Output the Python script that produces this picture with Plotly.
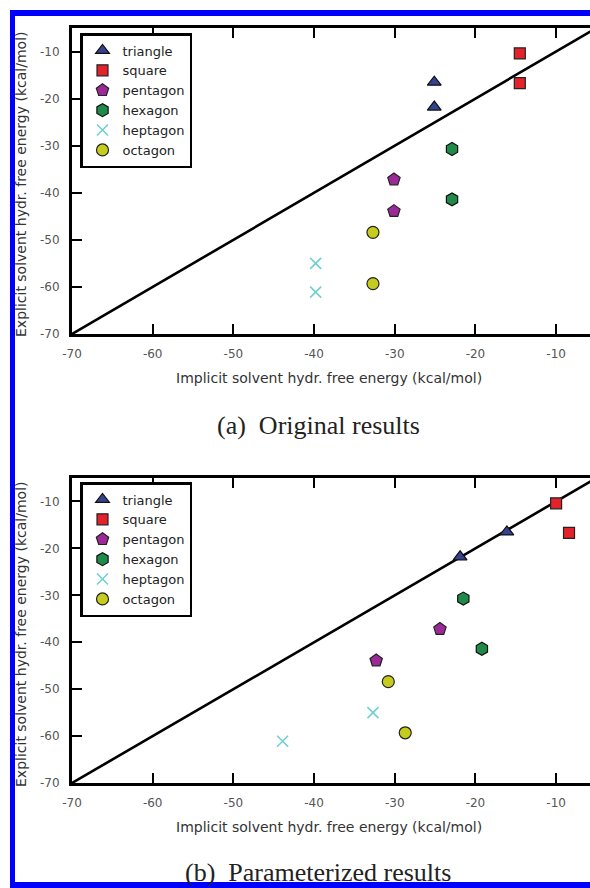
import plotly.graph_objects as go

# ---------------- data ----------------
series_names = ["triangle", "square", "pentagon", "hexagon", "heptagon", "octagon"]

explicit_triangle = [-16.5, -21.8]
explicit_square = [-10.4, -16.7]
explicit_pentagon = [-37.2, -43.9]
explicit_hexagon = [-30.7, -41.4]
explicit_heptagon = [-55.0, -61.1]
explicit_octagon = [-48.4, -59.3]

implicit_original_triangle = [-25.1, -25.1]
implicit_original_square = [-14.5, -14.5]
implicit_original_pentagon = [-30.1, -30.1]
implicit_original_hexagon = [-22.9, -22.9]
implicit_original_heptagon = [-39.8, -39.8]
implicit_original_octagon = [-32.7, -32.7]

implicit_param_triangle = [-16.1, -21.9]
implicit_param_square = [-10.0, -8.4]
implicit_param_pentagon = [-24.4, -32.3]
implicit_param_hexagon = [-21.5, -19.2]
implicit_param_heptagon = [-32.7, -43.9]
implicit_param_octagon = [-30.8, -28.7]

diagonal = [-70, -5]
tick_values = [-70, -60, -50, -40, -30, -20, -10]
tick_labels = ["-70", "-60", "-50", "-40", "-30", "-20", "-10"]

x_title = "Implicit solvent hydr. free energy (kcal/mol)"
y_title = "Explicit solvent hydr. free energy (kcal/mol)"
caption_a = "(a)\u00a0 Original results"
caption_b = "(b)\u00a0 Parameterized results"

# ---------------- styles ----------------
W, H = 590, 888
styles = {
    "triangle": dict(symbol="triangle-up", color="#34428f", size=12, line=dict(color="#111", width=1.2)),
    "square": dict(symbol="square", color="#e4222a", size=11, line=dict(color="#222", width=1.2)),
    "pentagon": dict(symbol="pentagon", color="#9b2a98", size=13, line=dict(color="#222", width=1.2)),
    "hexagon": dict(symbol="hexagon", color="#1f8a4a", size=13, line=dict(color="#111", width=1.2)),
    "heptagon": dict(symbol="x-thin", color="#72cfcf", size=11, line=dict(color="#72cfcf", width=1.6)),
    "octagon": dict(symbol="circle", color="#c6cc1e", size=12, line=dict(color="#222", width=1.2)),
}

explicit = [explicit_triangle, explicit_square, explicit_pentagon,
            explicit_hexagon, explicit_heptagon, explicit_octagon]
implicit_orig = [implicit_original_triangle, implicit_original_square, implicit_original_pentagon,
                 implicit_original_hexagon, implicit_original_heptagon, implicit_original_octagon]
implicit_par = [implicit_param_triangle, implicit_param_square, implicit_param_pentagon,
                implicit_param_hexagon, implicit_param_heptagon, implicit_param_octagon]

fig = go.Figure()

panels = [("x", "y", "legend", implicit_orig), ("x2", "y2", "legend2", implicit_par)]
for xa, ya, lg, impl in panels:
    fig.add_trace(go.Scatter(x=diagonal, y=diagonal, mode="lines", xaxis=xa, yaxis=ya,
                             line=dict(color="black", width=2.6), showlegend=False,
                             hoverinfo="skip"))
    for name, xs, ys in zip(series_names, impl, explicit):
        st = styles[name]
        fig.add_trace(go.Scatter(
            x=xs, y=ys, mode="markers", name=name, xaxis=xa, yaxis=ya, legend=lg,
            marker=dict(symbol=st["symbol"], color=st["color"], size=st["size"], line=st["line"]),
        ))

def px_x(p):
    return p / W

def px_y(p):
    return 1 - p / H

axis_common = dict(
    tickmode="array", tickvals=tick_values, ticktext=tick_labels,
    ticks="inside", ticklen=10, tickwidth=2, tickcolor="black",
    showline=True, linecolor="black", linewidth=3,
    showgrid=False, zeroline=False, automargin=False,
    tickfont=dict(family="DejaVu Sans", size=12, color="#555"),
)

x_dom = [px_x(72), 1.0]
ya_dom = [px_y(334), px_y(28)]
yb_dom = [px_y(783), px_y(478)]

fig.update_layout(
    template="none",
    width=W, height=H, autosize=False,
    margin=dict(l=0, r=0, t=0, b=0, pad=0, autoexpand=False),
    paper_bgcolor="white", plot_bgcolor="white",
    font=dict(family="DejaVu Sans", color="#333"),
    xaxis=dict(domain=x_dom, range=[-70, -5.8], anchor="y", mirror="ticks",
               ticklabelstandoff=7, **axis_common),
    yaxis=dict(domain=ya_dom, range=[-70, -5], anchor="x", mirror=False,
               ticklabelstandoff=7, **axis_common),
    xaxis2=dict(domain=x_dom, range=[-70, -5.8], anchor="y2", mirror="ticks",
                ticklabelstandoff=7, **axis_common),
    yaxis2=dict(domain=yb_dom, range=[-70, -5], anchor="x2", mirror=False,
                ticklabelstandoff=7, **axis_common),
    showlegend=True,
    hovermode=False,
)

legend_common = dict(
    bgcolor="white", bordercolor="black", borderwidth=2.5,
    font=dict(family="DejaVu Sans", size=13, color="#222"),
    xanchor="left", yanchor="top", itemwidth=30,
    tracegroupgap=0,
)
fig.update_layout(
    legend=dict(x=px_x(80), y=px_y(33), **legend_common),
    legend2=dict(x=px_x(80), y=px_y(482), **legend_common),
)

annotations = []
for yc_title, yc_cap, cap, y_center in [(378, 425, caption_a, 184), (827, 872, caption_b, 634)]:
    annotations.append(dict(text=x_title, xref="paper", yref="paper", x=px_x(329), y=px_y(yc_title),
                            xanchor="center", yanchor="middle", showarrow=False,
                            font=dict(family="DejaVu Sans", size=14, color="#333")))
    annotations.append(dict(text=y_title, xref="paper", yref="paper", x=px_x(21), y=px_y(y_center),
                            xanchor="center", yanchor="middle", showarrow=False, textangle=-90,
                            font=dict(family="DejaVu Sans", size=14, color="#333")))
    annotations.append(dict(text=cap, xref="paper", yref="paper", x=px_x(318), y=px_y(yc_cap),
                            xanchor="center", yanchor="middle", showarrow=False,
                            font=dict(family="Liberation Serif", size=26, color="#222")))
fig.update_layout(annotations=annotations)

# blue page border
shapes = [
    dict(type="rect", xref="paper", yref="paper", x0=px_x(10), x1=px_x(15), y0=px_y(888), y1=px_y(10),
         fillcolor="#0000ff", line=dict(width=0), layer="above"),
    dict(type="rect", xref="paper", yref="paper", x0=px_x(10), x1=1.0, y0=px_y(16), y1=px_y(10),
         fillcolor="#0000ff", line=dict(width=0), layer="above"),
    dict(type="rect", xref="paper", yref="paper", x0=px_x(10), x1=1.0, y0=px_y(888), y1=px_y(882),
         fillcolor="#0000ff", line=dict(width=0), layer="above"),
]
fig.update_layout(shapes=shapes)

fig.write_html("out.html",
               post_script="document.body.style.margin='0';document.body.style.overflow='hidden';")
